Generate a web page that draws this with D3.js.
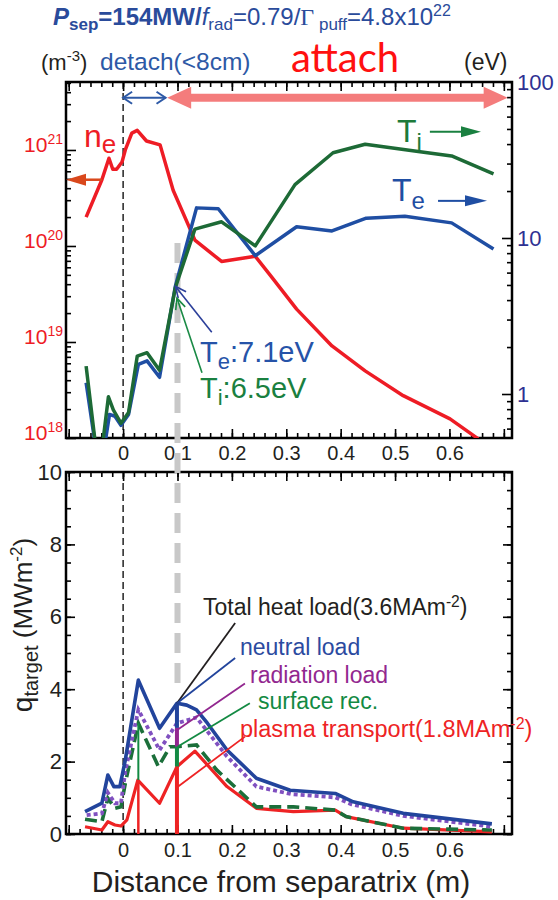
<!DOCTYPE html>
<html><head><meta charset="utf-8">
<script src="https://cdn.jsdelivr.net/npm/d3@7"></script>
<style>body{margin:0;background:#fff}svg{display:block}</style>
</head><body>
<svg id="c" width="558" height="900"></svg>
<script>
// ---------------- DATA ----------------
// top panel: electron density (m^-3), left log axis
const neX = [-0.068,-0.039,-0.026,-0.019,-0.012,-0.002,0.004,0.016,0.026,0.043,0.068,0.092,0.132,0.181,0.243,0.270,0.319,0.384,0.445,0.515,0.601,0.653];
const neV = [2.0e20,4.9e20,8.2e20,6.3e20,6.3e20,7.5e20,1.0e21,1.5e21,1.6e21,1.24e21,1.13e21,3.8e20,1.15e20,6.9e19,7.8e19,5.0e19,2.2e19,9.1e18,5.0e18,2.76e18,1.58e18,9.8e17];
// electron temperature (eV), right log axis
const teX = [-0.068,-0.049,-0.036,-0.025,-0.015,-0.004,0.010,0.028,0.044,0.067,0.096,0.135,0.175,0.243,0.319,0.384,0.447,0.518,0.604,0.681];
const teV = [1.18,0.42,0.42,0.74,0.72,0.63,0.74,1.55,1.63,1.28,4.9,15.6,15.4,7.7,11.8,11.1,13.4,13.8,12.5,8.5];
// ion temperature (eV)
const tiX = [-0.068,-0.049,-0.037,-0.027,-0.018,-0.004,0.010,0.026,0.044,0.067,0.096,0.132,0.181,0.243,0.316,0.386,0.445,0.546,0.604,0.681];
const tiV = [1.51,0.42,0.50,0.96,0.79,0.65,0.76,1.75,1.84,1.42,4.8,11.4,12.7,8.9,22,35.2,39.9,35.7,33.6,25.8];

// bottom panel: target heat load (MW m^-2)
const neutX = [-0.070,-0.039,-0.028,-0.017,-0.006,0.004,0.028,0.067,0.099,0.117,0.135,0.155,0.191,0.245,0.307,0.390,0.423,0.515,0.678];
const neutV = [0.62,0.85,1.63,1.31,1.31,2.04,4.25,2.92,3.61,3.56,3.43,3.06,2.32,1.54,1.21,1.12,0.89,0.57,0.28];
const radX  = [-0.067,-0.039,-0.028,-0.015,-0.004,0.004,0.028,0.067,0.099,0.135,0.191,0.245,0.310,0.390,0.420,0.515,0.678];
const radV  = [0.52,0.57,1.14,0.85,0.85,1.72,3.43,2.32,3.06,3.22,2.14,1.31,1.10,1.01,0.82,0.50,0.20];
const surfX = [-0.070,-0.039,-0.028,-0.015,-0.004,0.004,0.028,0.065,0.086,0.099,0.135,0.172,0.245,0.313,0.390,0.410,0.515,0.678];
const surfV = [0.41,0.34,0.99,0.71,0.75,1.40,3.06,1.86,2.41,2.41,2.46,1.77,0.75,0.75,0.66,0.48,0.16,0.11];
const plasX = [-0.070,-0.039,-0.028,-0.015,-0.004,0.007,0.027,0.067,0.099,0.132,0.191,0.245,0.313,0.390,0.410,0.515,0.678];
const plasV = [0.20,0.11,0.34,0.25,0.22,0.39,1.49,0.85,1.86,2.29,1.31,0.71,0.62,0.66,0.48,0.16,0.06];

// stacked breakdown bars at two positions (x, [component, top, bottom, width])
const stackX = [0.028, 0.099];
const stackSegs = [
  [["surf",3.06,1.49,2],["plas",1.49,0,2.5]],
  [["neut",3.61,2.93,4],["rad",2.93,2.41,4],["surf",2.41,1.86,4],["plas",1.86,0,4]]
];

// tick labels
const xTickLabels = [0,0.1,0.2,0.3,0.4,0.5,0.6];
const neTickLabels = [1e18,1e19,1e20,1e21];
const tTickLabels = [1,10,100];
const qTickLabels = [0,2,4,6,8,10];

// annotation anchors (data units)
const detachRange = [0, 0.078];
const attachRange = [0.081, 0.707];
const arrowNe = 3.5e21;
const neArrow = {from:[-0.039,4.9e20], to:[-0.105,4.9e20]};
const tiArrow = {from:[0.564,48], to:[0.658,48]};
const teArrow = {from:[0.579,17.3], to:[0.669,17.3]};
const teLeader = {from:[0.163,2.49], to:[0.096,4.9]};
const tiLeader = {from:[0.145,1.37], to:[0.099,4.12]};
const grayLine = {x:0.1, topEV:9.3, bottomQ:4.1};
const leaders = [
  {k:"total", from:[0.099,3.61], to:[0.206,5.83]},
  {k:"neut",  from:[0.099,3.61], to:[0.206,4.86]},
  {k:"rad",   from:[0.100,2.88], to:[0.224,4.16]},
  {k:"surf",  from:[0.100,2.41], to:[0.233,3.61]},
  {k:"plas",  from:[0.100,1.30], to:[0.224,2.69]}
];

// ---------------- LAYOUT ----------------
const FONT = "'Liberation Sans', Arial, Helvetica, sans-serif";
const PL=66, PR=512, TT=82, TB=438, BT=472, BB=834;
const COL = {ne:'#ee1c25', te:'#1f4ea3', ti:'#1d6a36', navy:'#2e3192', title:'#2a4b9b',
  neut:'#22449c', rad:'#8050c0', surf:'#1b6f3a', plas:'#ee2324', total:'#231f20',
  radT:'#92278f', surfT:'#138a43', neutT:'#2b4aa0', pink:'#f47c7c', orange:'#d9481c', gray:'#c8c8c8'};

const svg = d3.select('#c');
const x = d3.scaleLinear().domain([-0.105,0.715]).range([PL,PR]);
const yNe = d3.scaleLog().domain([1e18, Math.pow(10,21.708)]).range([TB,TT]);
const yT = d3.scaleLog().domain([Math.pow(10,-0.282),100]).range([TB,TT]);
const yQ = d3.scaleLinear().domain([0,10]).range([BB,BT]);

const defs = svg.append('defs');
defs.append('clipPath').attr('id','clipTop').append('rect').attr('x',PL).attr('y',TT).attr('width',PR-PL).attr('height',TB-TT);
defs.append('clipPath').attr('id','clipBot').append('rect').attr('x',PL).attr('y',BT).attr('width',PR-PL).attr('height',BB-BT+2);

function tri(x1,y1,x2,y2,len,hw){ // filled triangle with tip at x2,y2
  const L=Math.hypot(x2-x1,y2-y1), dx=(x2-x1)/L, dy=(y2-y1)/L;
  const bx=x2-dx*len, by=y2-dy*len, px=-dy, py=dx;
  return `M${x2},${y2}L${bx+px*hw},${by+py*hw}L${bx-px*hw},${by-py*hw}Z`;
}
function chev(x1,y1,x2,y2,len,hw){
  const L=Math.hypot(x2-x1,y2-y1), dx=(x2-x1)/L, dy=(y2-y1)/L;
  const bx=x2-dx*len, by=y2-dy*len, px=-dy, py=dx;
  return `M${bx+px*hw},${by+py*hw}L${x2},${y2}L${bx-px*hw},${by-py*hw}`;
}

// ---------------- TITLE & HEADERS ----------------
const ttl = svg.append('text').attr('x',53).attr('y',25).attr('font-family',FONT).attr('font-size',24).attr('fill',COL.title);
ttl.append('tspan').attr('font-weight','bold').attr('font-style','italic').text('P');
ttl.append('tspan').attr('font-weight','bold').attr('font-size',17).attr('dy',5).text('sep');
ttl.append('tspan').attr('font-weight','bold').attr('dy',-5).text('=154MW/');
ttl.append('tspan').attr('font-style','italic').text('f');
ttl.append('tspan').attr('font-size',17).attr('dy',5).text('rad');
ttl.append('tspan').attr('dy',-5).text('=0.79/');
ttl.append('tspan').attr('font-family',"'Liberation Serif', serif").text('Γ');
ttl.append('tspan').attr('font-size',17).attr('dy',5).text(' puff');
ttl.append('tspan').attr('dy',-5).text('=4.8x10');
ttl.append('tspan').attr('font-size',16).attr('dy',-9).text('22');

const m3 = svg.append('text').attr('x',41).attr('y',70).attr('font-family',FONT).attr('font-size',22).attr('fill','#231f20');
m3.append('tspan').text('(m');
m3.append('tspan').attr('font-size',15).attr('dy',-9).text('-3');
m3.append('tspan').attr('dy',9).text(')');
svg.append('text').attr('x',100).attr('y',70).attr('font-family',FONT).attr('font-size',24.5).attr('fill','#2d59a6').text('detach(<8cm)');
svg.append('text').attr('x',464).attr('y',70).attr('font-family',FONT).attr('font-size',23).attr('fill','#231f20').text('(eV)');
svg.append('text').attr('x',345).attr('y',72).attr('text-anchor','middle').attr('font-family',"Lato, 'Open Sans', sans-serif").attr('font-size',40).attr('fill','#ff1010').text('attach');

// ---------------- AXES ----------------
function axisG(fn, scale, vals, size, fmt, tr){
  const g = svg.append('g').attr('transform',tr).attr('font-family',FONT);
  g.call(fn(scale).tickValues(vals).tickSize(-size).tickFormat(fmt||(()=>'')));
  g.select('.domain').remove();
  g.selectAll('line').attr('stroke','#000').attr('stroke-width',1.6);
  return g;
}
const xMinor = d3.range(-10,72,2).map(v=>v/100);
const xMajor = d3.range(-1,8).map(v=>v/10);
const fx = d => (d>=-1e-9 && d<=0.6001) ? (Math.abs(d)<1e-9 ? '0' : d3.format('.1f')(d)) : '';
const logMinor = (lo,hi) => { const r=[]; for(let e=-1;e<23;e++) for(let m=2;m<10;m++){const v=m*Math.pow(10,e); if(v>lo&&v<hi) r.push(v);} return r; };

// top panel
[[TB,d3.axisBottom],[TT,d3.axisTop]].forEach(([yy,fn])=>{
  axisG(fn,x,xMinor,5,null,`translate(0,${yy})`);
  axisG(fn,x,xMajor,9,null,`translate(0,${yy})`);
});
const gx1 = axisG(d3.axisBottom,x,xTickLabels,0,fx,`translate(0,${TB})`);
gx1.selectAll('.tick line').remove();
gx1.selectAll('text').attr('font-size',20).attr('fill','#231f20').attr('y',8);

axisG(d3.axisLeft,yNe,logMinor(1e18,6e21),5,null,`translate(${PL},0)`);
const gyl = axisG(d3.axisLeft,yNe,neTickLabels,10,null,`translate(${PL},0)`);
gyl.selectAll('text').remove();
gyl.selectAll('.tick').each(function(d){
  const t=d3.select(this).append('text').attr('x',-3).attr('y',0).attr('dy','0.08em').attr('text-anchor','end')
    .attr('font-size',21).attr('fill',COL.ne);
  t.append('tspan').text('10');
  t.append('tspan').attr('font-size',14).attr('dy','-0.55em').text(Math.round(Math.log10(d)));
});

axisG(d3.axisRight,yT,logMinor(0.5,100),5,null,`translate(${PR},0)`);
const gyr = axisG(d3.axisRight,yT,tTickLabels,10,d3.format('d'),`translate(${PR},0)`);
gyr.selectAll('text').attr('font-size',22).attr('fill',COL.navy).attr('x',5);

// bottom panel
[[BB,d3.axisBottom],[BT,d3.axisTop]].forEach(([yy,fn])=>{
  axisG(fn,x,xMinor,5,null,`translate(0,${yy})`);
  axisG(fn,x,xMajor,9,null,`translate(0,${yy})`);
});
const gx2 = axisG(d3.axisBottom,x,xTickLabels,0,fx,`translate(0,${BB})`);
gx2.selectAll('.tick line').remove();
gx2.selectAll('text').attr('font-size',20).attr('fill','#231f20').attr('y',9);
[[PL,d3.axisLeft],[PR,d3.axisRight]].forEach(([xx,fn])=>{
  axisG(fn,yQ,d3.range(0,10.01,0.5),5,null,`translate(${xx},0)`);
  axisG(fn,yQ,d3.range(0,10.01,2),9,null,`translate(${xx},0)`);
});
const gq = axisG(d3.axisLeft,yQ,qTickLabels,0,d3.format('d'),`translate(${PL},0)`);
gq.selectAll('.tick line').remove();
gq.selectAll('text').attr('font-size',22).attr('fill','#231f20').attr('x',-4);

// frames
[[TT,TB],[BT,BB]].forEach(([a,b])=>svg.append('rect').attr('x',PL).attr('y',a).attr('width',PR-PL).attr('height',b-a)
  .attr('fill','none').attr('stroke','#000').attr('stroke-width',2.5));

// axis titles
svg.append('text').attr('x',281).attr('y',892).attr('text-anchor','middle').attr('font-family',FONT)
  .attr('font-size',30).attr('fill','#231f20').text('Distance from separatrix (m)');
const yl = svg.append('text').attr('transform','translate(32,625) rotate(-90)').attr('text-anchor','middle')
  .attr('font-family',FONT).attr('font-size',26).attr('fill','#231f20');
yl.append('tspan').attr('font-size',28).text('q');
yl.append('tspan').attr('font-size',20).attr('dy',6).text('target');
yl.append('tspan').attr('dy',-6).text(' (MWm');
yl.append('tspan').attr('font-size',17).attr('dy',-10).text('-2');
yl.append('tspan').attr('dy',10).text(')');

// ---------------- REFERENCE LINES ----------------
[[TT,TB],[BT,BB]].forEach(([a,b])=>svg.append('line').attr('x1',x(0)).attr('x2',x(0)).attr('y1',a).attr('y2',b)
  .attr('stroke','#000').attr('stroke-width',1.3).attr('stroke-dasharray','7,4'));
svg.append('line').attr('x1',x(grayLine.x)).attr('x2',x(grayLine.x)).attr('y1',yT(grayLine.topEV)).attr('y2',yQ(grayLine.bottomQ))
  .attr('stroke',COL.gray).attr('stroke-width',6).attr('stroke-dasharray','20,10');

// ---------------- TOP PANEL LINES ----------------
const topG = svg.append('g').attr('clip-path','url(#clipTop)');
const lineNe = d3.line().x(d=>x(d[0])).y(d=>yNe(d[1]));
const lineT = d3.line().x(d=>x(d[0])).y(d=>yT(d[1]));
topG.append('path').attr('d',lineNe(d3.zip(neX,neV))).attr('fill','none').attr('stroke',COL.ne).attr('stroke-width',3.5).attr('stroke-linejoin','round');
topG.append('path').attr('d',lineT(d3.zip(teX,teV))).attr('fill','none').attr('stroke',COL.te).attr('stroke-width',3.5).attr('stroke-linejoin','round');
topG.append('path').attr('d',lineT(d3.zip(tiX,tiV))).attr('fill','none').attr('stroke',COL.ti).attr('stroke-width',3.5).attr('stroke-linejoin','round');

// top annotations
function straightArrow(p1,p2,col,w,len,hw){
  const L=Math.hypot(p2[0]-p1[0],p2[1]-p1[1]);
  svg.append('line').attr('x1',p1[0]).attr('y1',p1[1]).attr('x2',p2[0]-(p2[0]-p1[0])/L*len*0.8)
    .attr('y2',p2[1]-(p2[1]-p1[1])/L*len*0.8).attr('stroke',col).attr('stroke-width',w);
  svg.append('path').attr('d',tri(p1[0],p1[1],p2[0],p2[1],len,hw)).attr('fill',col);
}
straightArrow([x(neArrow.from[0]),yNe(neArrow.from[1])],[x(neArrow.to[0]),yNe(neArrow.to[1])],COL.orange,2.5,20,6);
straightArrow([x(tiArrow.from[0]),yT(tiArrow.from[1])],[x(tiArrow.to[0]),yT(tiArrow.to[1])],'#1a8040',2,20,5.5);
straightArrow([x(teArrow.from[0]),yT(teArrow.from[1])],[x(teArrow.to[0]),yT(teArrow.to[1])],COL.te,2,22,5.5);

// detach double arrow
const dy0 = yNe(arrowNe);
svg.append('line').attr('x1',x(detachRange[0])).attr('x2',x(detachRange[1])).attr('y1',dy0).attr('y2',dy0).attr('stroke','#2d59a6').attr('stroke-width',2);
svg.append('path').attr('d',chev(x(detachRange[1]),dy0,x(detachRange[0]),dy0,9,6)+chev(x(detachRange[0]),dy0,x(detachRange[1]),dy0,9,6))
  .attr('fill','none').attr('stroke','#2d59a6').attr('stroke-width',2);
// attach double arrow
svg.append('line').attr('x1',x(attachRange[0])+18).attr('x2',x(attachRange[1])-18).attr('y1',dy0).attr('y2',dy0).attr('stroke',COL.pink).attr('stroke-width',8);
svg.append('path').attr('d',tri(x(attachRange[1]),dy0,x(attachRange[0]),dy0,24,11)+tri(x(attachRange[0]),dy0,x(attachRange[1]),dy0,24,11)).attr('fill',COL.pink);

// leaders Te / Ti
[[teLeader,'#2b3f9a'],[tiLeader,'#1a8a45']].forEach(([L,c])=>{
  const a=[x(L.from[0]),yT(L.from[1])], b=[x(L.to[0]),yT(L.to[1])];
  svg.append('line').attr('x1',a[0]).attr('y1',a[1]).attr('x2',b[0]).attr('y2',b[1]).attr('stroke',c).attr('stroke-width',1.6);
  svg.append('path').attr('d',chev(a[0],a[1],b[0],b[1],11,5)).attr('fill','none').attr('stroke',c).attr('stroke-width',1.6);
});

function subLabel(xp,yp,main,sub,rest,size,subSize,col,subDy){
  const t=svg.append('text').attr('x',xp).attr('y',yp).attr('font-family',FONT).attr('font-size',size).attr('fill',col);
  t.append('tspan').text(main);
  t.append('tspan').attr('font-size',subSize).attr('dy',subDy).text(sub);
  if(rest) t.append('tspan').attr('dy',-subDy).text(rest);
  return t;
}
subLabel(84,147,'n','e',null,32,26,COL.ne,6);
subLabel(397,142,'T','i',null,32,24,'#1d7a3a',8);
subLabel(392,201,'T','e',null,32,24,COL.te,8);
subLabel(200,362,'T','e',':7.1eV',29,22,'#2653a8',7);
subLabel(200,398,'T','i',':6.5eV',29,22,'#1a8040',7);

// ---------------- BOTTOM PANEL LINES ----------------
const botG = svg.append('g').attr('clip-path','url(#clipBot)');
const lineQ = d3.line().x(d=>x(d[0])).y(d=>yQ(d[1]));
botG.append('path').attr('d',lineQ(d3.zip(plasX,plasV))).attr('fill','none').attr('stroke',COL.plas).attr('stroke-width',3.2).attr('stroke-linejoin','round');
botG.append('path').attr('d',lineQ(d3.zip(surfX,surfV))).attr('fill','none').attr('stroke',COL.surf).attr('stroke-width',3.6).attr('stroke-dasharray','12,6');
botG.append('path').attr('d',lineQ(d3.zip(radX,radV))).attr('fill','none').attr('stroke',COL.rad).attr('stroke-width',3.8).attr('stroke-dasharray','4,3');
botG.append('path').attr('d',lineQ(d3.zip(neutX,neutV))).attr('fill','none').attr('stroke',COL.neut).attr('stroke-width',3.6).attr('stroke-linejoin','round');
const segCol = {neut:COL.neut, rad:COL.radT, surf:COL.surfT, plas:COL.plas};
stackX.forEach((sx,i)=>stackSegs[i].forEach(([k,a,b,w])=>{
  botG.append('line').attr('x1',x(sx)).attr('x2',x(sx)).attr('y1',yQ(a)).attr('y2',yQ(b)).attr('stroke',segCol[k]).attr('stroke-width',w);
}));

// leader lines
const leadCol = {total:'#231f20', neut:COL.neut, rad:COL.radT, surf:COL.surfT, plas:COL.plas};
leaders.forEach(L=>svg.append('line').attr('x1',x(L.from[0])).attr('y1',yQ(L.from[1])).attr('x2',x(L.to[0])).attr('y2',yQ(L.to[1]))
  .attr('stroke',leadCol[L.k]).attr('stroke-width',1.8));

function supLabel(xp,yp,main,sup,size,col){
  const t=svg.append('text').attr('x',xp).attr('y',yp).attr('font-family',FONT).attr('font-size',size).attr('fill',col);
  t.append('tspan').text(main);
  if(sup){ t.append('tspan').attr('font-size',size*0.68).attr('dy',-8).text(sup); t.append('tspan').attr('dy',8).text(')'); }
}
supLabel(203,615,'Total heat load(3.6MAm','-2',23,'#231f20');
supLabel(240,655,'neutral load',null,23,COL.neutT);
supLabel(250,683,'radiation load',null,23,COL.radT);
supLabel(258,709,'surface rec.',null,23,COL.surfT);
supLabel(240,737,'plasma transport(1.8MAm','-2',23.5,COL.plas);
</script>
</body></html>
